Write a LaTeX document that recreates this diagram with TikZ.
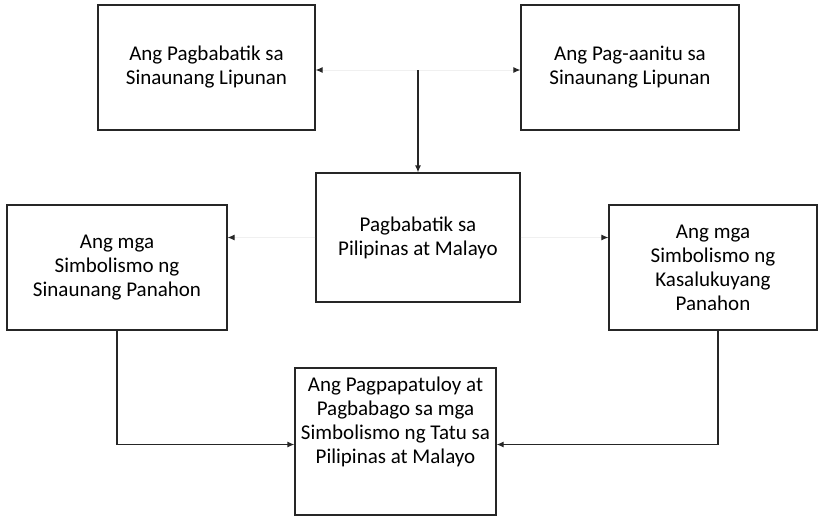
\documentclass[tikz,border=0pt]{standalone}
\usepackage{fontspec}
\setmainfont{Carlito}
\usetikzlibrary{arrows.meta}
\begin{document}
\begin{tikzpicture}[x=1pt, y=-1pt]
\useasboundingbox (0,0) rectangle (825,523);

% definitions
\tikzstyle{topic} = [rectangle, text centered, draw=black!85, line width=1.2pt, align=center, font=\fontsize{21}{24}\selectfont, inner sep=0pt]
\tikzstyle{arrow} = [-{Latex[length=7pt, width=6pt]}, black!85, line width=1.2pt]
\tikzstyle{faint} = [-{Latex[length=7pt, width=6pt, color=black!85]}, black!6, line width=1pt]

% the graph
\node (l0) [topic, minimum width=217, minimum height=125] at (206.5,67.5) {Ang Pagbabatik sa\\Sinaunang Lipunan};
\node (l1) [topic, minimum width=218, minimum height=125] at (630,67.5) {Ang Pag-aanitu sa\\Sinaunang Lipunan};
\node (l2) [topic, minimum width=204, minimum height=129] at (418,237.5) {Pagbabatik sa\\Pilipinas at Malayo};
\node (l3) [topic, minimum width=220, minimum height=125] at (117,267.5) {Ang mga\\Simbolismo ng\\Sinaunang Panahon};
\node (l4) [topic, minimum width=208, minimum height=125] at (713,267.5) {Ang mga\\Simbolismo ng\\Kasalukuyang\\Panahon};
\node (l5) [topic, minimum width=201, minimum height=147, text depth=42pt] at (395.5,441.5) {Ang Pagpapatuloy at\\Pagbabago sa mga\\Simbolismo ng Tatu sa\\Pilipinas at Malayo};

\coordinate (split) at (418,70);

\draw [faint] (split) -- (split -| l0.east);
\draw [faint] (split) -- (split -| l1.west);
\draw [arrow] (split) -- (l2.north);

\draw [faint] (l2.west) -- (l2.west -| l3.east);
\draw [faint] (l2.east) -- (l2.east -| l4.west);

\draw [arrow] (l3.south) |- ([yshift=-3pt]l5.west);
\draw [arrow] ([xshift=5pt]l4.south) |- ([yshift=-3pt]l5.east);

\end{tikzpicture}
\end{document}
